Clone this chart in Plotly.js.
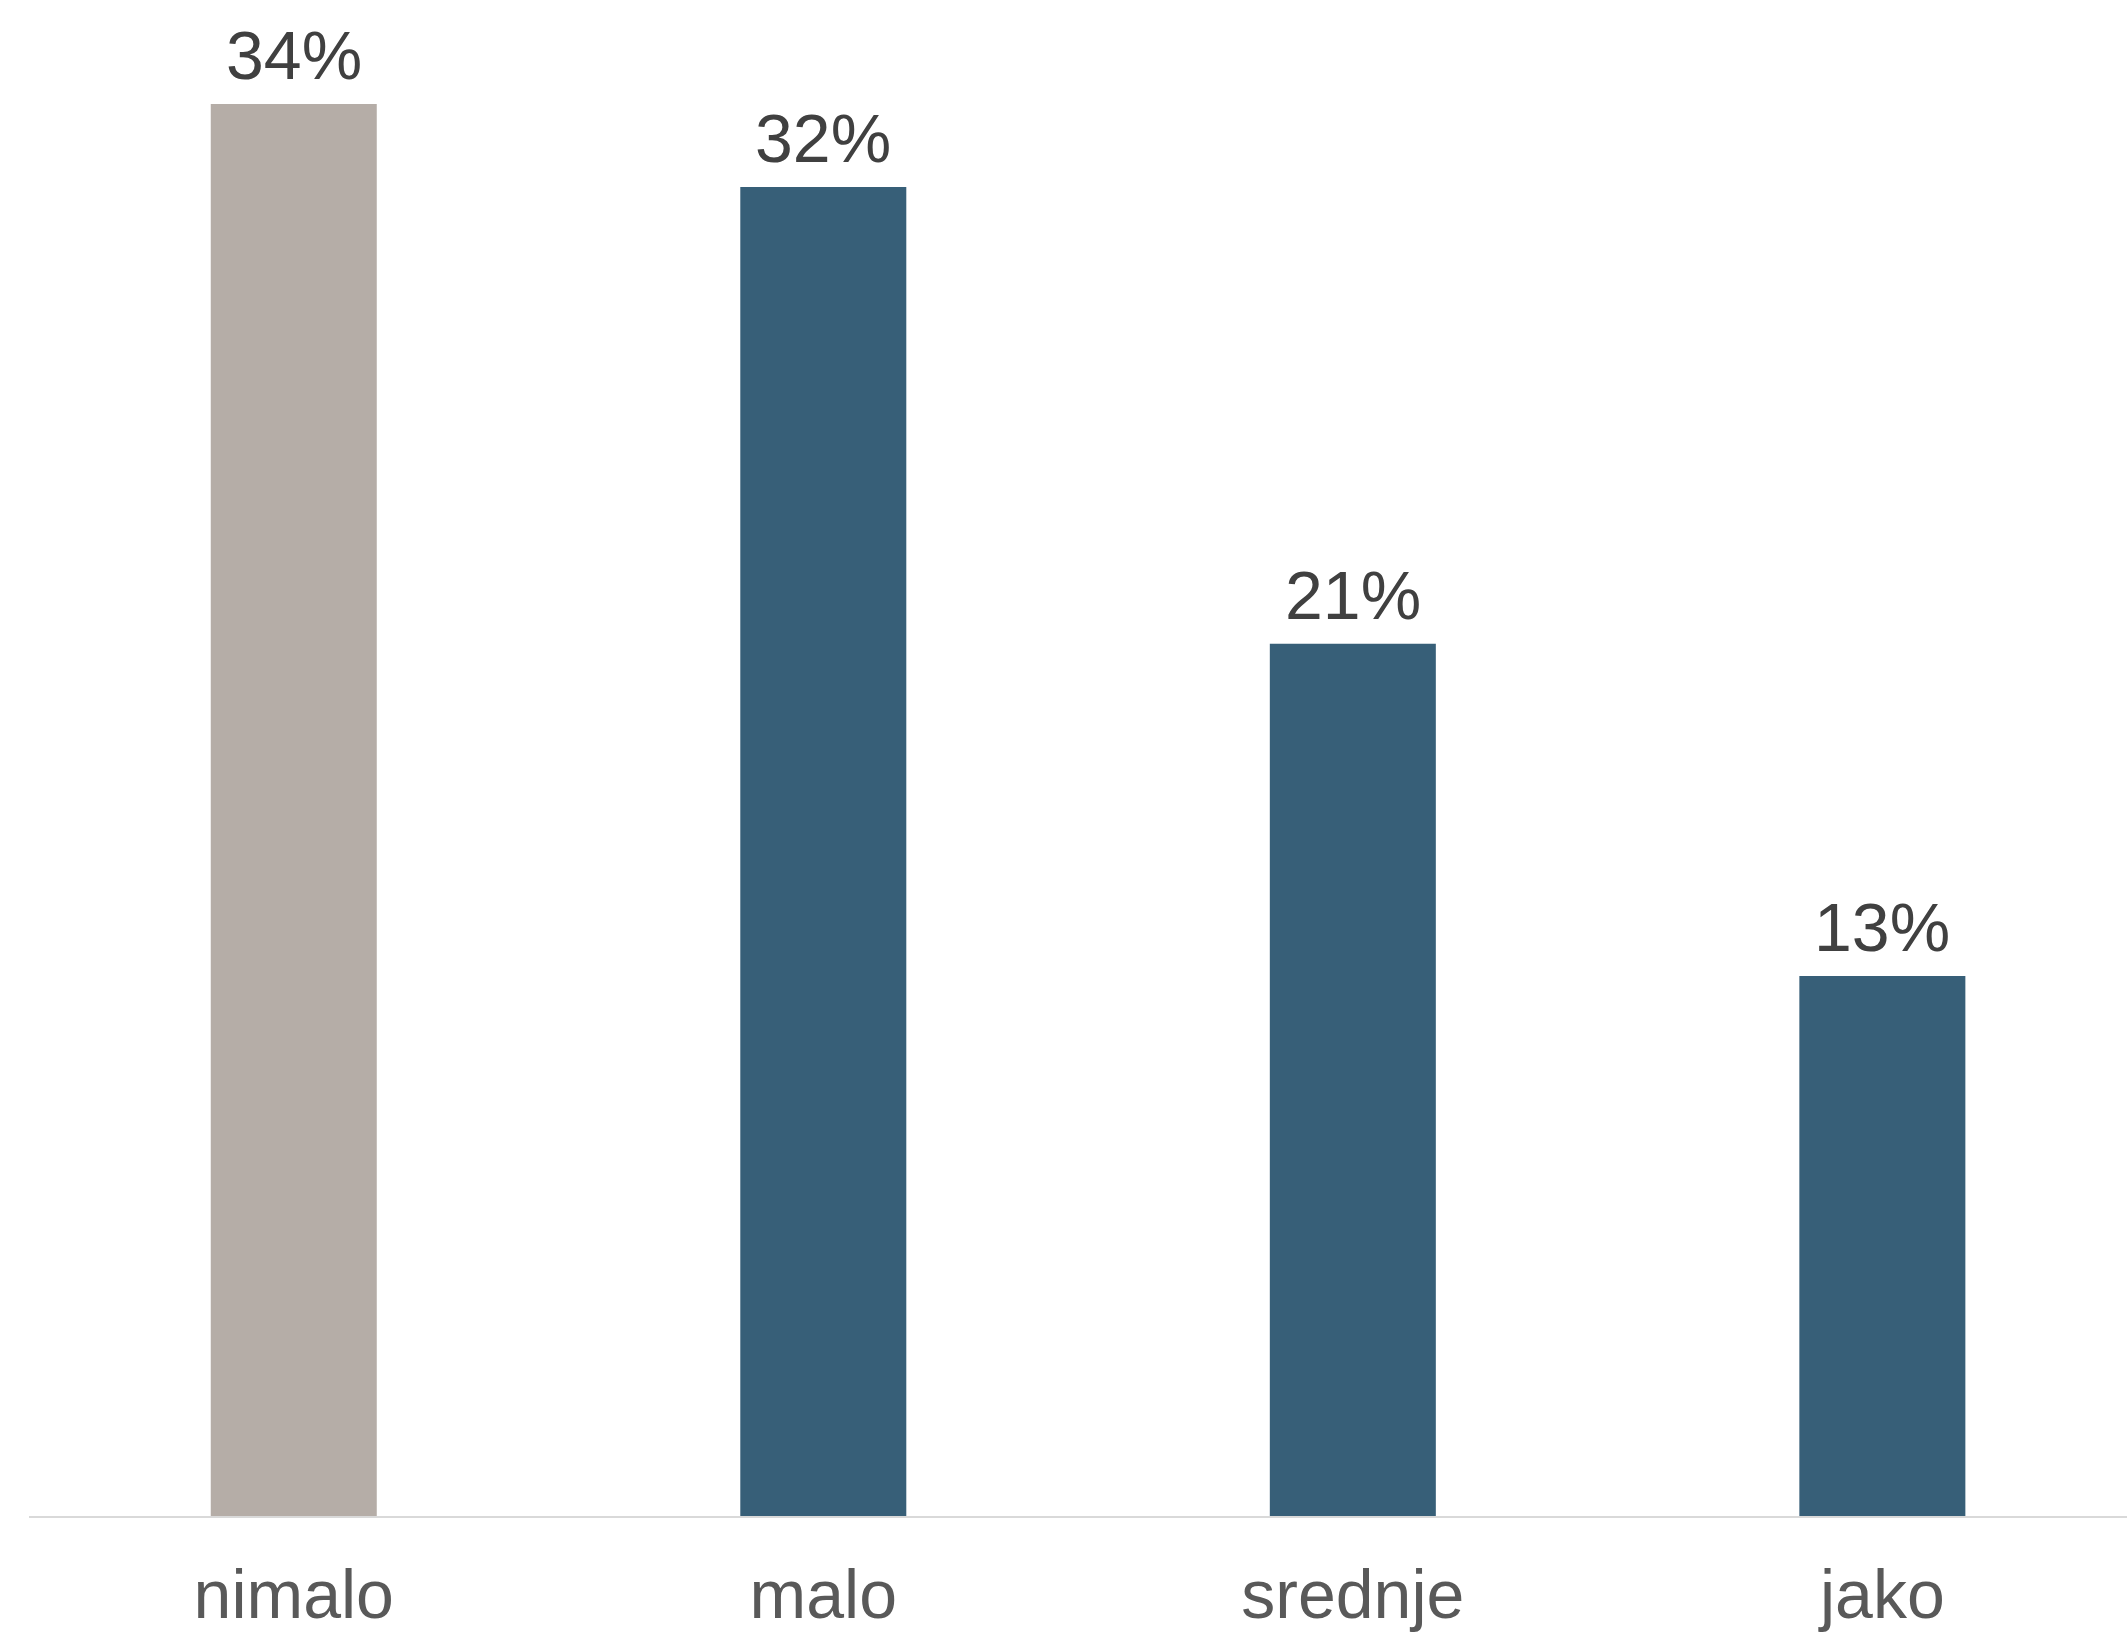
<!DOCTYPE html>
<html>
<head>
<meta charset="utf-8">
<script src="https://cdn.plot.ly/plotly-3.0.1.min.js"></script>
<style>html,body{margin:0;padding:0;background:#fff;}#chart{width:2127px;height:1634px;}</style>
</head>
<body>
<div id="chart"></div>
<script>
const categories = ["nimalo", "malo", "srednje", "jako"];
const values = [34, 32, 21, 13];
const valueLabels = ["34%", "32%", "21%", "13%"];
const barColors = ["#B5ADA7", "#375F78", "#375F78", "#375F78"];

const FONT = "Liberation Sans, Arial, sans-serif";

const trace = {
  type: "bar",
  x: categories,
  y: values,
  cliponaxis: false,
  marker: {color: barColors, line: {width: 0}},
  hoverinfo: "skip"
};

const annotations = categories.map((c, i) => ({
  x: c,
  y: values[i],
  xref: "x",
  yref: "y",
  text: valueLabels[i],
  showarrow: false,
  xanchor: "center",
  yanchor: "bottom",
  yshift: 9,
  font: {family: FONT, size: 68, color: "#404040"}
}));

const layout = {
  width: 2127,
  height: 1634,
  margin: {l: 29, r: 0, t: 30, b: 118},
  paper_bgcolor: "#ffffff",
  plot_bgcolor: "#ffffff",
  bargap: 0.6865,
  showlegend: false,
  font: {family: FONT},
  annotations: annotations,
  xaxis: {
    type: "category",
    range: [-0.5, 3.462],
    showline: true,
    linecolor: "#D9D9D9",
    linewidth: 2,
    showgrid: false,
    zeroline: false,
    ticks: "outside",
    ticklen: 18,
    tickcolor: "rgba(0,0,0,0)",
    tickfont: {family: FONT, size: 68, color: "#595959"}
  },
  yaxis: {
    range: [0, 35.78],
    visible: false,
    showgrid: false,
    zeroline: false
  }
};

Plotly.newPlot("chart", [trace], layout, {displayModeBar: false, staticPlot: true});
</script>
</body>
</html>
